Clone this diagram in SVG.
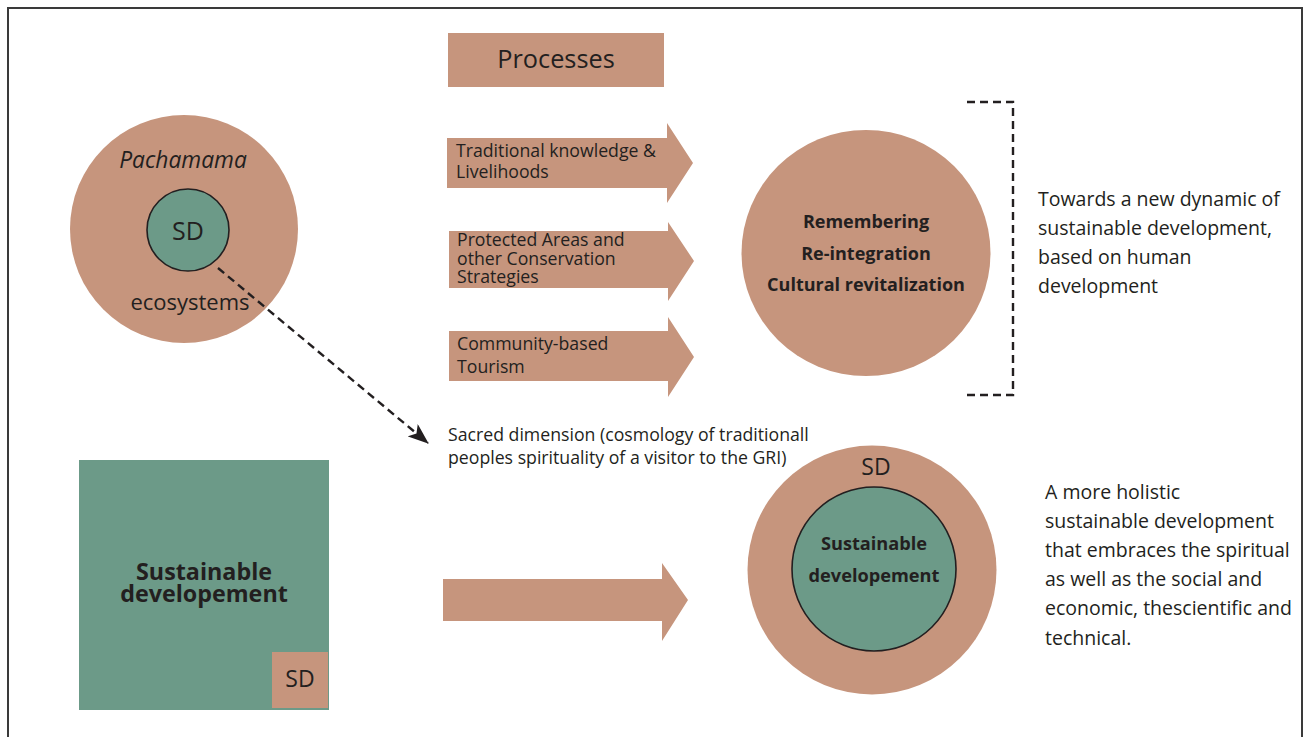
<svg xmlns="http://www.w3.org/2000/svg" width="1307" height="737" viewBox="0 0 1307 737">
<defs>
<style>
.tan{fill:#C6957D}
.grn{fill:#6C9A88}
.ol{stroke:#231F20;stroke-width:1.6}
text{font-family:"Open Sans","Noto Sans",sans-serif;fill:#231F20}
.b{font-weight:bold}
.dash{fill:none;stroke:#231F20;stroke-width:2.4;stroke-dasharray:8 5}
.p{font-size:17.7px}
.r{font-size:19.5px}
</style>
<marker id="ah" markerWidth="22" markerHeight="16" refX="20" refY="8" orient="auto" markerUnits="userSpaceOnUse"><path d="M0,0 L21,8 L0,16 L5,8 Z" fill="#231F20"/></marker>
</defs>
<rect width="1307" height="737" fill="#fff"/>
<rect x="8" y="8" width="1294" height="740" fill="none" stroke="#3a3a3a" stroke-width="2"/>

<g id="pachamama">
<circle class="tan" cx="184" cy="229" r="114"/>
<circle class="grn ol" cx="188" cy="230" r="41"/>
<text x="183" y="168" font-size="22.8" font-style="italic" text-anchor="middle">Pachamama</text>
<text x="188" y="240" font-size="25" text-anchor="middle">SD</text>
<text x="190" y="310" font-size="22" text-anchor="middle">ecosystems</text>
</g>

<g id="processes">
<rect class="tan" x="448" y="33" width="216" height="54"/>
<text x="556" y="68" font-size="25.3" text-anchor="middle">Processes</text>
</g>

<g id="arrow-traditional">
<path class="tan" d="M447,138 H667 V123 L693,163 L667,203 V188 H447 Z"/>
<text class="p" x="456" y="157">Traditional knowledge &amp;</text>
<text class="p" x="456" y="178">Livelihoods</text>
</g>

<g id="arrow-protected">
<path class="tan" d="M449,231 H668 V222 L694,261 L668,301 V288 H449 Z"/>
<text class="p" x="457" y="246">Protected Areas and</text>
<text class="p" x="457" y="265">other Conservation</text>
<text class="p" x="457" y="283">Strategies</text>
</g>

<g id="arrow-tourism">
<path class="tan" d="M449,331 H668 V317 L694,357 L668,397 V381 H449 Z"/>
<text class="p" x="457" y="350">Community-based</text>
<text class="p" x="457" y="373">Tourism</text>
</g>

<g id="remembering">
<ellipse class="tan" cx="866" cy="253" rx="124.5" ry="123"/>
<text class="b" x="866" y="228" font-size="18" text-anchor="middle">Remembering</text>
<text class="b" x="866" y="260" font-size="18" text-anchor="middle">Re-integration</text>
<text class="b" x="866" y="291" font-size="18" text-anchor="middle">Cultural revitalization</text>
</g>

<g id="towards">
<text class="r" x="1038" y="206">Towards a new dynamic of</text>
<text class="r" x="1038" y="235">sustainable development,</text>
<text class="r" x="1038" y="264">based on human</text>
<text class="r" x="1038" y="293">development</text>
</g>

<g id="sacred">
<text class="p" x="448" y="441">Sacred dimension (cosmology of traditionall</text>
<text class="p" x="448" y="464">peoples spirituality of a visitor to the GRI)</text>
</g>

<g id="sd-square">
<rect class="grn" x="79" y="460" width="250" height="250"/>
<rect class="tan" x="272" y="652" width="56" height="56"/>
<text class="b" x="204" y="580" font-size="23.3" text-anchor="middle">Sustainable</text>
<text class="b" x="204" y="602" font-size="23.3" text-anchor="middle">developement</text>
<text x="300" y="687" font-size="23" text-anchor="middle">SD</text>
</g>

<g id="arrow-main">
<path class="tan" d="M443,579 H662 V563 L688,600 L662,641 V621 H443 Z"/>
</g>

<g id="sd-circle">
<circle class="tan" cx="872" cy="570" r="124.5"/>
<circle class="grn ol" cx="874" cy="569" r="82"/>
<text x="876" y="475" font-size="23" text-anchor="middle">SD</text>
<text class="b" x="874" y="550" font-size="18.2" text-anchor="middle">Sustainable</text>
<text class="b" x="874" y="582" font-size="18.2" text-anchor="middle">developement</text>
</g>

<g id="holistic">
<text class="r" x="1045" y="499">A more holistic</text>
<text class="r" x="1045" y="528">sustainable development</text>
<text class="r" x="1045" y="557">that embraces the spiritual</text>
<text class="r" x="1045" y="586">as well as the social and</text>
<text class="r" x="1045" y="615">economic, thescientific and</text>
<text class="r" x="1045" y="645">technical.</text>
</g>

<g id="connectors">
<path class="dash" d="M218,268 L428,443" marker-end="url(#ah)"/>
<path class="dash" d="M967,102 H1013 V395 H967"/>
</g>
</svg>
